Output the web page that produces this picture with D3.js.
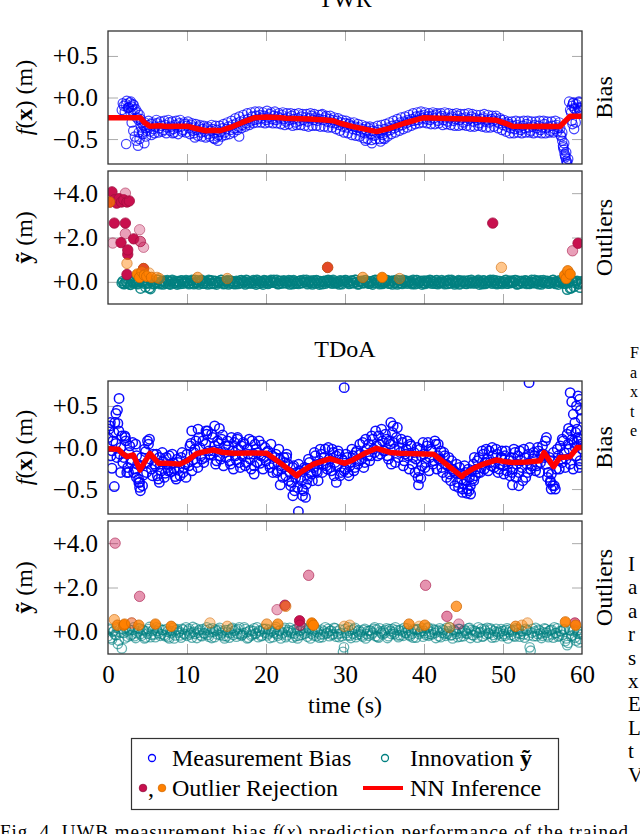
<!DOCTYPE html>
<html>
<head>
<meta charset="utf-8">
<script src="https://cdn.jsdelivr.net/npm/d3@7"></script>
<style>
  body { margin: 0; background: #fff; }
  text { font-family: "Liberation Serif", "Times New Roman", serif; fill: #000; }
</style>
</head>
<body>
<svg id="chart" width="640" height="834"></svg>
<script>
// ---- data ----
// dense samples: one value every dt seconds starting at the given t0
const dt = 0.25;

// TWR measurement bias (two interleaved sample runs)
const twrBiasT0 = 1.75;
const twrBias = [
  -0.15,-0.10,-0.08,-0.13,-0.06,-0.11,-0.09,-0.14,-0.18,-0.21,
  -0.30,-0.34,-0.37,-0.33, -0.36,-0.32,-0.38,-0.35, -0.31,-0.37,-0.34,-0.39,
  -0.33,-0.36,-0.30,-0.35, -0.38,-0.33,-0.36,-0.31, -0.35,-0.39,-0.32,-0.34,
  -0.37,-0.33,-0.40,-0.36, -0.39,-0.35,-0.42,-0.38, -0.41,-0.37,-0.44,-0.40,
  -0.38,-0.43,-0.39,-0.45, -0.41,-0.37,-0.42,-0.38, -0.35,-0.39,-0.33,-0.37,
  -0.31,-0.35,-0.29,-0.33, -0.27,-0.31,-0.26,-0.29, -0.23,-0.27,-0.22,-0.26,
  -0.21,-0.25,-0.22,-0.27, -0.24,-0.20,-0.26,-0.22, -0.27,-0.23,-0.25,-0.21,
  -0.26,-0.29,-0.24,-0.27, -0.22,-0.26,-0.30,-0.25, -0.28,-0.23,-0.27,-0.24,
  -0.29,-0.25,-0.22,-0.27, -0.24,-0.28,-0.26,-0.21, -0.27,-0.24,-0.29,-0.26,
  -0.30,-0.27,-0.31,-0.28, -0.33,-0.30,-0.35,-0.31, -0.36,-0.32,-0.34,-0.38,
  -0.35,-0.39,-0.36,-0.41, -0.38,-0.43,-0.40,-0.37, -0.44,-0.40,-0.46,-0.42,
  -0.39,-0.43,-0.45,-0.38, -0.41,-0.36,-0.39,-0.34, -0.37,-0.33,-0.35,-0.30,
  -0.33,-0.29,-0.31,-0.27, -0.29,-0.26,-0.28,-0.23, -0.27,-0.22,-0.25,-0.21,
  -0.26,-0.23,-0.27,-0.22, -0.25,-0.21,-0.28,-0.24, -0.22,-0.27,-0.24,-0.29,
  -0.25,-0.23,-0.28,-0.26, -0.22,-0.27,-0.25,-0.30, -0.24,-0.28,-0.26,-0.23,
  -0.29,-0.25,-0.27,-0.31, -0.26,-0.24,-0.29,-0.27, -0.30,-0.26,-0.28,-0.25,
  -0.29,-0.31,-0.27,-0.33, -0.30,-0.35,-0.32,-0.37, -0.34,-0.38,-0.33,-0.36,
  -0.39,-0.34,-0.37,-0.32, -0.36,-0.40,-0.35,-0.33, -0.37,-0.34,-0.39,-0.36,
  -0.32,-0.37,-0.35,-0.40, -0.34,-0.38,-0.33,-0.36, -0.37,-0.42,-0.55,-0.66,
  -0.74,-0.15,-0.10,-0.13, -0.08,-0.12,-0.15,-0.11
];
const twrBias2T0 = 1.875;
const twrBias2 = [
  -0.07,-0.17,-0.04,-0.12,-0.19,-0.08,-0.15,-0.24,-0.27,
  -0.26,-0.42,-0.30,-0.40, -0.28,-0.41,-0.30,-0.43, -0.27,-0.42,-0.29,-0.41,
  -0.28,-0.43,-0.27,-0.40, -0.29,-0.42,-0.28,-0.44, -0.27,-0.41,-0.30,-0.42,
  -0.29,-0.44,-0.31,-0.43, -0.32,-0.46,-0.33,-0.47, -0.34,-0.48,-0.35,-0.47,
  -0.33,-0.49,-0.34,-0.47, -0.34,-0.47,-0.32,-0.45, -0.30,-0.44,-0.28,-0.42,
  -0.25,-0.39,-0.23,-0.37, -0.21,-0.35,-0.19,-0.33, -0.18,-0.31,-0.17,-0.30,
  -0.17,-0.30,-0.18,-0.31, -0.16,-0.30,-0.18,-0.31, -0.17,-0.31,-0.19,-0.32,
  -0.18,-0.33,-0.19,-0.32, -0.19,-0.34,-0.20,-0.33, -0.19,-0.33,-0.20,-0.34,
  -0.20,-0.35,-0.19,-0.34, -0.20,-0.34,-0.21,-0.35, -0.20,-0.35,-0.22,-0.36,
  -0.22,-0.36,-0.24,-0.38, -0.25,-0.40,-0.27,-0.42, -0.28,-0.43,-0.30,-0.45,
  -0.30,-0.46,-0.32,-0.47, -0.33,-0.49,-0.35,-0.50, -0.35,-0.51,-0.36,-0.50,
  -0.34,-0.50,-0.33,-0.49, -0.32,-0.47,-0.30,-0.44, -0.28,-0.42,-0.26,-0.40,
  -0.24,-0.38,-0.23,-0.36, -0.21,-0.34,-0.19,-0.32, -0.18,-0.31,-0.17,-0.30,
  -0.18,-0.31,-0.19,-0.32, -0.18,-0.32,-0.19,-0.31, -0.19,-0.33,-0.18,-0.32,
  -0.19,-0.33,-0.20,-0.34, -0.19,-0.34,-0.20,-0.33, -0.20,-0.34,-0.19,-0.35,
  -0.20,-0.35,-0.21,-0.34, -0.21,-0.35,-0.20,-0.36, -0.21,-0.36,-0.22,-0.35,
  -0.22,-0.37,-0.25,-0.39, -0.27,-0.41,-0.29,-0.43, -0.29,-0.43,-0.28,-0.42,
  -0.29,-0.43,-0.28,-0.42, -0.28,-0.42,-0.29,-0.43, -0.29,-0.42,-0.28,-0.43,
  -0.28,-0.43,-0.29,-0.42, -0.29,-0.42,-0.28,-0.41, -0.30,-0.47,-0.60,-0.70,
  -0.78,-0.05,-0.18,-0.07, -0.14,-0.17,-0.06,-0.13
];
// scattered TWR bias points [t, value]
const twrBiasExtra = [
  [2.3,-0.56],[2.6,-0.12],[2.9,-0.05],[3.0,-0.30],[3.1,-0.16],[3.2,-0.40],[3.4,-0.47],
  [3.6,-0.52],[3.8,-0.58],[3.9,-0.42],[4.0,-0.50],[4.2,-0.36],[4.4,-0.44],[4.6,-0.55],
  [4.8,-0.47],[5.5,-0.45],[8.2,-0.43],[11.0,-0.48],[13.5,-0.50],[13.9,-0.52],[16.6,-0.47],
  [32.6,-0.52],[33.4,-0.55],[34.5,-0.53],[35.0,-0.50],[57.3,-0.45],[57.5,-0.52],[57.6,-0.58],
  [57.7,-0.63],[57.8,-0.68],[57.9,-0.72],[58.0,-0.76],[58.1,-0.80],[58.2,-0.85],
  [58.7,-0.28],[58.8,-0.32],[59.0,-0.38],[59.2,-0.30],[58.9,-0.06],[59.6,-0.05]
];
// TWR NN inference [t, value]
const twrNN = [
  [0,-0.245],[4.1,-0.245],[4.6,-0.30],[5.3,-0.345],[6.5,-0.34],[7.5,-0.35],[8.5,-0.345],
  [10,-0.345],[11,-0.37],[12.4,-0.40],[13.3,-0.395],[14.2,-0.40],[15.5,-0.36],[17,-0.30],
  [18.5,-0.245],[20,-0.235],[21.5,-0.24],[22.5,-0.25],[24.3,-0.255],[25.5,-0.26],
  [26.5,-0.265],[27.5,-0.27],[28.5,-0.28],[29.4,-0.31],[31,-0.35],[32.5,-0.38],[34,-0.41],
  [35.5,-0.375],[37.5,-0.31],[39.9,-0.245],[42,-0.25],[44,-0.255],[46,-0.26],[47.5,-0.265],
  [49.2,-0.275],[50.3,-0.31],[51.2,-0.345],[53,-0.35],[55,-0.345],[57.2,-0.35],
  [57.8,-0.29],[58.5,-0.225],[60,-0.225]
];

// TWR innovation (two interleaved sample runs)
const twrInnovT0 = 1.75;
const twrInnov = [
  -0.05,-0.10,0.02,-0.08,-0.12,0.04,-0.06,-0.02,-0.10,0.05,
  -0.02,0.06,-0.24,-0.08, -0.28,0.03,-0.10,-0.05, 0.08,-0.06,0.01,-0.11,
  -0.03,0.07,-0.09,0.02, -0.07,0.04,-0.12,-0.01, 0.06,-0.08,0.00,-0.04,
  -0.10,0.03,-0.06,0.08, -0.02,-0.11,0.05,-0.07, 0.02,-0.05,0.09,-0.09,
  -0.06,0.04,-0.12,0.01, 0.07,-0.03,-0.08,0.03, -0.11,0.05,-0.04,0.00,
  0.04,-0.09,0.06,-0.06, -0.01,0.08,-0.07,0.02, -0.08,0.03,-0.12,0.05,
  0.01,-0.06,0.07,-0.03, -0.09,0.04,-0.02,0.09, -0.05,-0.10,0.03,-0.07,
  0.06,-0.04,0.00,-0.11, -0.03,0.07,-0.08,0.02, 0.04,-0.06,0.08,-0.02,
  -0.10,0.01,-0.05,0.06, -0.07,0.05,-0.12,0.00, 0.03,-0.08,0.06,-0.04,
  -0.02,0.09,-0.06,0.01, -0.11,0.04,-0.03,0.07, 0.00,-0.09,0.05,-0.05,
  0.08,-0.02,-0.10,0.03, -0.06,0.06,-0.01,-0.08, 0.02,-0.12,0.07,-0.04,
  -0.03,0.05,-0.09,0.00, 0.06,-0.07,0.02,-0.11, -0.04,0.08,-0.06,0.03,
  -0.09,0.01,0.05,-0.02, 0.04,-0.10,-0.03,0.07, -0.07,0.02,-0.12,0.05,
  0.01,-0.05,0.08,-0.08, -0.02,0.06,-0.10,0.00, 0.07,-0.04,0.03,-0.09,
  -0.06,0.09,-0.01,-0.05, 0.03,-0.11,0.05,-0.03, -0.08,0.02,-0.06,0.08,
  0.00,-0.07,0.04,-0.12, -0.04,0.06,-0.09,0.02, 0.05,-0.02,0.08,-0.06,
  -0.10,0.03,-0.04,0.01, 0.06,-0.08,0.00,-0.05, -0.03,0.07,-0.11,0.04,
  0.02,-0.06,0.05,-0.09, -0.07,0.01,-0.03,0.08, 0.04,-0.10,0.06,-0.02,
  -0.05,0.03,-0.08,0.00, 0.07,-0.04,0.02,-0.12, -0.01,0.05,-0.07,0.03,
  -0.06,-0.30,0.04,-0.22, 0.02,-0.08,-0.26,-0.03
];
const twrInnov2T0 = 1.875;
const twrInnov2 = [
  0.03,-0.09,-0.04,0.06,-0.13,-0.01,0.07,-0.07,0.00,
  -0.30,0.02,-0.08,0.07, -0.04,-0.32,0.05,-0.09, -0.02,0.09,-0.10,0.04,
  0.05,-0.08,0.02,-0.12, 0.08,-0.03,-0.07,0.03, -0.09,0.05,-0.01,0.07,
  0.04,-0.06,0.09,-0.10, -0.05,0.06,-0.02,0.08, -0.08,0.03,-0.11,0.05,
  0.06,-0.09,0.03,-0.05, -0.03,0.08,-0.10,0.02, 0.07,-0.06,0.04,-0.09,
  -0.10,0.01,-0.04,0.07, 0.03,-0.11,0.06,-0.05, -0.02,0.07,-0.05,0.09,
  -0.08,0.02,-0.12,0.05, 0.04,-0.06,0.08,-0.03, 0.01,0.08,-0.09,0.04,
  -0.06,0.03,-0.07,0.07, 0.05,-0.10,0.02,-0.05, -0.09,0.06,-0.04,0.01,
  0.08,-0.03,0.05,-0.11, -0.02,0.07,-0.06,0.03, -0.10,0.04,-0.01,0.08,
  0.05,-0.08,0.02,-0.06, -0.04,0.06,-0.10,0.03, 0.07,-0.02,-0.07,0.05,
  -0.05,0.08,-0.11,0.01, 0.04,-0.06,0.07,-0.03, -0.08,0.03,-0.05,0.09,
  0.06,-0.10,0.01,-0.06, -0.01,0.07,-0.08,0.04, 0.05,-0.04,-0.11,0.06,
  -0.06,0.09,-0.02,-0.08, 0.02,-0.05,0.08,-0.10, 0.07,-0.03,0.04,-0.06,
  -0.09,0.05,-0.02,0.06, 0.03,-0.08,0.07,-0.04, -0.05,0.02,-0.10,0.05,
  0.08,-0.06,0.03,-0.11, -0.02,0.07,-0.07,0.01, 0.05,-0.09,0.06,-0.04,
  -0.07,0.03,-0.03,0.08, 0.01,-0.10,0.05,-0.06, -0.04,0.08,-0.08,0.02,
  0.06,-0.05,0.03,-0.09, -0.03,0.09,-0.07,0.04, 0.05,-0.02,0.07,-0.10,
  -0.08,0.04,-0.04,0.06, 0.02,-0.09,0.08,-0.05, -0.06,0.05,-0.01,-0.11,
  0.07,-0.03,0.04,-0.07, -0.04,0.08,-0.09,0.01, 0.06,-0.05,0.03,-0.08,
  -0.35,0.01,-0.28,0.05, -0.05,0.04,-0.10,0.02
];
// TWR rejected outliers [t, value, opacity]
const twrOutRed = [
  [0.26,3.6,1],[0.5,4.06,1],[0.8,3.7,1],[1.1,3.55,1],[1.4,3.75,1],[1.7,3.6,1],[2.0,3.7,1],
  [2.4,3.6,1],[2.7,3.65,1],[2.2,4.0,0.35],[0.8,2.65,1],[2.2,2.65,1],[0.6,1.75,0.3],
  [1.65,1.77,1],[2.2,2.17,0.4],[2.5,1.24,1],[2.5,1.44,1],[2.4,0.33,1],[3.25,1.94,1],
  [4.0,2.35,0.3],[4.1,1.82,0.6],[4.5,1.56,0.3],[4.5,0.6,1],[27.8,0.65,1],[48.7,2.65,1],
  [58.8,1.4,0.4],[59.5,1.74,1]
];
const twrOutOrange = [
  [0.2,3.6,0.7],[2.4,0.83,0.45],[4.5,0.6,0.5],[27.8,0.65,0.5],[49.8,0.65,0.45],
  [3.7,0.35,1],[4.0,0.2,1],[4.3,0.45,0.5],[4.6,0.3,1],[4.9,0.25,1],[5.2,0.4,0.35],
  [5.5,0.2,0.8],[6.2,0.2,0.5],[6.5,0.15,0.35],[11.35,0.2,0.6],[15.1,0.15,0.45],
  [32.25,0.2,0.6],[34.7,0.2,1],[36.9,0.15,0.4],[57.8,0.3,1],[58.0,0.15,1],[58.2,0.5,0.9],
  [58.5,0.35,1]
];

// TDoA measurement bias (two interleaved sample runs)
const tdoaBiasT0 = 0;
const tdoaBias = [
  0.12,0.26,-0.04,0.18, 0.05,0.29,-0.08,0.14, -0.12,0.08,-0.24,0.02, -0.15,-0.30,0.04,-0.20,
  -0.42,-0.12,-0.33,-0.05, -0.18,0.10,-0.26,-0.08, -0.22,-0.34,-0.12,-0.28, -0.17,-0.31,-0.24,-0.10,
  -0.29,-0.19,-0.35,-0.14, -0.25,-0.12,-0.30,-0.20, -0.08,-0.22,0.05,-0.15, -0.02,-0.18,0.12,-0.10,
  0.08,-0.12,0.16,-0.04, -0.09,0.12,0.02,-0.16, 0.05,-0.14,0.15,-0.06, -0.12,0.02,-0.20,-0.04,
  0.06,-0.15,-0.02,-0.24, -0.10,0.04,-0.18,-0.08, -0.14,0.08,-0.22,-0.02, -0.06,-0.19,0.03,-0.12,
  -0.16,-0.04,-0.24,-0.10, -0.20,-0.08,-0.28,-0.14, -0.26,-0.12,-0.34,-0.20, -0.30,-0.42,-0.22,-0.36,
  -0.48,-0.28,-0.40,-0.52, -0.26,-0.38,-0.18,-0.32, -0.24,-0.10,-0.30,-0.16, -0.08,-0.20,-0.02,-0.26,
  -0.14,-0.28,-0.06,-0.18, -0.22,-0.08,-0.30,-0.16, -0.26,-0.12,-0.34,-0.18, -0.10,-0.24,-0.04,-0.16,
  -0.08,0.06,-0.18,-0.02, 0.04,-0.10,0.10,-0.06, 0.02,0.14,-0.08,0.08, -0.04,0.10,-0.14,0.04,
  0.18,-0.02,0.12,-0.12, -0.06,0.06,-0.16,-0.02, -0.10,0.04,-0.20,-0.06, -0.14,-0.36,-0.02,-0.22,
  -0.08,-0.18,0.06,-0.12, -0.04,-0.16,0.04,-0.10, -0.14,-0.24,-0.06,-0.20, -0.22,-0.32,-0.16,-0.28,
  -0.30,-0.42,-0.24,-0.38, -0.44,-0.30,-0.50,-0.36, -0.28,-0.20,-0.34,-0.16, -0.12,-0.24,-0.08,-0.18,
  -0.14,-0.04,-0.22,-0.10, -0.18,-0.08,-0.26,-0.12, -0.22,-0.10,-0.28,-0.16, -0.12,-0.26,-0.06,-0.20,
  -0.30,-0.16,-0.40,-0.12, -0.20,-0.08,-0.26,-0.14, -0.10,-0.22,-0.04,-0.18, 0.02,-0.12,-0.20,-0.30,
  -0.40,-0.16,-0.46,-0.26, -0.10,0.02,-0.18,-0.06, -0.14,0.04,-0.20,0.10, 0.06,-0.10,0.12,-0.16,
  -0.02
];
const tdoaBias2T0 = 0.125;
const tdoaBias2 = [
  0.22,-0.10,0.08,0.30, -0.12,0.20,0.00,-0.18, 0.14,-0.30,-0.06,-0.18, 0.06,-0.26,-0.10,-0.38,
  -0.22,-0.46,-0.02,-0.30, 0.04,-0.14,-0.34,-0.20, -0.08,-0.38,-0.20,-0.06, -0.36,-0.12,-0.28,-0.20,
  -0.08,-0.26,-0.38,-0.18, -0.34,-0.06,-0.24,-0.36, -0.18,0.02,-0.28,-0.06, 0.08,-0.24,0.00,-0.14,
  -0.18,0.04,0.20,-0.08, 0.16,-0.04,-0.20,0.08, -0.10,0.10,-0.22,0.02, 0.08,-0.16,0.12,-0.26,
  -0.10,0.10,-0.18,0.02, 0.06,-0.22,-0.02,0.10, -0.26,-0.08,0.04,-0.18, 0.08,-0.10,-0.26,0.00,
  -0.06,-0.20,0.04,-0.30, -0.12,-0.30,-0.02,-0.22, -0.36,-0.18,-0.08,-0.40, -0.46,-0.24,-0.52,-0.30,
  -0.20,-0.36,-0.58,-0.24, -0.44,-0.14,-0.30,-0.40, -0.06,-0.28,-0.20,-0.02, -0.30,-0.12,-0.22,0.00,
  -0.24,-0.02,-0.34,-0.10, -0.04,-0.34,-0.14,-0.28, -0.08,-0.30,-0.22,-0.02, -0.28,-0.06,-0.20,0.04,
  -0.14,-0.24,0.10,-0.10, -0.16,0.14,-0.02,0.20, -0.10,0.04,0.22,-0.04, 0.16,-0.10,0.08,-0.20,
  0.06,-0.18,0.24,0.00, 0.10,-0.22,-0.08,0.08, -0.26,0.02,-0.12,-0.30, 0.00,-0.28,-0.10,0.06,
  -0.24,0.02,-0.28,-0.02, -0.20,0.08,-0.26,-0.14, -0.04,-0.30,-0.10,-0.36, -0.12,-0.40,-0.26,-0.46,
  -0.20,-0.48,-0.32,-0.54, -0.22,-0.40,-0.26,-0.46, -0.38,-0.12,-0.26,-0.30, -0.30,-0.04,-0.26,-0.02,
  -0.28,-0.18,0.00,-0.24, -0.02,-0.30,-0.20,-0.04, -0.32,-0.04,-0.20,-0.34, -0.30,-0.02,-0.36,-0.10,
  -0.04,-0.24,-0.02,-0.36, -0.30,0.00,-0.22,-0.06, -0.28,0.00,-0.30,-0.08, -0.08,0.08,-0.36,-0.12,
  -0.32,-0.06,-0.50,-0.02, -0.26,-0.14,0.08,-0.24, 0.16,-0.02,0.20,-0.26, 0.00,0.22,-0.24,0.04
];
const tdoaBiasExtra = [
  [0.3,0.30],[0.5,-0.25],[0.8,-0.47],[1.0,0.41],[1.2,0.45],[1.4,0.59],[1.6,-0.30],[2.2,0.12],
  [2.6,-0.30],[3.6,-0.36],[3.9,-0.42],[4.0,-0.48],[4.1,-0.52],[5.0,0.08],[6.5,-0.42],
  [10.6,0.20],[11.4,0.22],[12.4,0.20],[13.5,0.26],[14.1,0.23],[16.4,0.12],[18.5,-0.32],
  [21.8,-0.45],[22.6,-0.12],[23.4,-0.58],[24.1,-0.77],[24.6,-0.50],[25.0,-0.60],[26.6,-0.40],
  [28.9,-0.42],[29.9,0.72],[35.8,0.30],[36.1,0.26],[39.3,-0.45],[39.6,-0.37],[41.8,0.04],
  [44.9,-0.50],[45.4,-0.55],[45.7,-0.52],[45.9,-0.56],[46.3,-0.40],[49.8,-0.12],[51.2,-0.45],
  [52.0,-0.46],[53.3,0.78],[55.5,0.12],[56.0,-0.42],[56.1,-0.50],[56.3,-0.46],[57.5,0.10],
  [58.3,0.23],[58.5,0.66],[58.7,0.55],[58.9,0.40],[59.1,0.30],[59.2,0.18],[59.3,0.50],
  [59.4,0.08],[59.5,0.62],[59.6,0.10],[59.7,0.58],[59.8,0.45],[59.8,-0.20],[59.9,0.35]
];
const tdoaNN = [
  [0,-0.015],[1.3,-0.02],[1.8,-0.07],[2.4,-0.11],[3.2,-0.09],[4.05,-0.27],[5.3,-0.07],
  [6.4,-0.19],[7.5,-0.19],[9.1,-0.20],[10,-0.16],[11.2,-0.075],[12.2,-0.05],[13.3,-0.03],
  [14.6,-0.06],[16,-0.07],[18,-0.065],[20.1,-0.07],[22,-0.2],[23.9,-0.34],[24.2,-0.31],
  [26,-0.2],[28.1,-0.135],[30,-0.19],[31,-0.15],[32.5,-0.07],[34,-0.01],[35.7,-0.06],
  [37,-0.07],[39,-0.075],[41.2,-0.08],[44.8,-0.35],[45.1,-0.32],[46.3,-0.25],[47.5,-0.2],
  [49.2,-0.15],[50.2,-0.17],[51.3,-0.18],[53,-0.175],[54.7,-0.16],[55.2,-0.06],[56.4,-0.23],
  [57.2,-0.12],[58.5,-0.11],[59.4,0.0],[60,0.0]
];

// TDoA innovation (two interleaved sample runs)
const tdoaInnovT0 = 0;
const tdoaInnov = [
  -0.20,0.10,-0.35,0.05, -0.15,-0.55,0.12,-0.75, -0.05,0.18,-0.22,0.08, -0.12,0.20,-0.28,0.02,
  0.15,-0.18,0.06,-0.25, -0.08,0.22,-0.14,0.10, -0.24,0.04,0.16,-0.10, 0.08,-0.20,0.00,-0.30,
  -0.06,0.18,-0.16,0.12, 0.02,-0.26,0.10,-0.12, -0.18,0.14,-0.04,0.22, -0.10,-0.28,0.06,-0.16,
  0.12,-0.08,0.20,-0.22, -0.02,0.16,-0.24,0.04, 0.10,-0.14,0.02,-0.30, -0.20,0.08,-0.06,0.18,
  0.04,-0.22,0.12,-0.10, -0.14,0.20,-0.02,-0.26, 0.08,-0.12,0.16,-0.06, -0.24,0.02,-0.16,0.12,
  0.14,-0.08,-0.28,0.04, -0.04,0.22,-0.18,0.06, -0.12,0.10,-0.24,0.00, 0.18,-0.06,0.08,-0.20,
  -0.30,0.04,-0.14,0.16, 0.06,-0.22,0.12,-0.08, -0.16,0.14,-0.02,-0.26, 0.10,-0.12,0.20,-0.04,
  -0.20,0.06,-0.10,0.16, 0.02,-0.24,-0.06,-0.90, 0.12,-0.16,0.04,-0.28, -0.08,0.18,-0.14,0.08,
  0.00,-0.22,0.14,-0.10, -0.18,0.06,-0.04,0.20, 0.10,-0.26,0.02,-0.12, -0.06,0.16,-0.20,0.04,
  0.14,-0.10,0.08,-0.24, -0.16,0.02,0.18,-0.06, 0.06,-0.20,-0.08,0.12, -0.26,0.10,-0.02,0.16,
  0.04,-0.14,0.20,-0.10, -0.12,0.08,-0.28,0.02, 0.16,-0.04,0.06,-0.18, -0.08,0.20,-0.14,0.10,
  0.00,-0.24,0.12,-0.06, -0.20,0.04,-0.10,0.18, 0.08,-0.16,0.02,-0.26, -0.04,0.14,-0.20,0.06,
  0.18,-0.08,0.10,-0.14, -0.24,0.00,-0.06,0.12, 0.04,-0.18,0.16,-0.02, -0.14,0.08,-0.22,0.10,
  0.12,-0.10,0.02,-0.26, 0.06,-0.16,-0.85,0.14, 0.02,-0.20,0.10,-0.08, -0.18,0.16,-0.04,-0.24,
  0.08,-0.12,0.20,-0.06, -0.22,0.04,-0.14,0.12, -0.30,-0.50,0.06,-0.16, 0.10,-0.40,-0.08,-0.32,
  -0.12
];
const tdoaInnov2T0 = 0.125;
const tdoaInnov2 = [
  0.15,-0.28,0.00,-0.12, 0.20,-0.40,-0.04,0.14, -0.30,0.02,0.12,-0.16, 0.08,-0.20,-0.06,0.16,
  -0.10,0.10,-0.30,0.02, 0.12,-0.24,0.04,-0.12, 0.20,-0.06,-0.18,0.08, -0.14,0.12,-0.24,0.04,
  0.02,-0.30,0.08,-0.04, -0.16,0.14,-0.08,0.20, 0.06,-0.12,-0.26,0.00, 0.16,-0.04,0.10,-0.20,
  -0.06,0.08,-0.14,0.12, -0.28,0.00,0.10,-0.12, 0.18,-0.06,-0.20,0.08, -0.02,-0.26,0.14,-0.14,
  0.10,-0.08,0.20,-0.18, -0.06,0.12,-0.30,0.02, -0.18,0.04,-0.10,0.20, 0.06,-0.20,0.14,-0.04,
  -0.16,0.10,0.00,-0.24, 0.12,-0.10,0.04,-0.30, -0.04,0.18,-0.16,0.08, 0.02,-0.26,-0.08,0.14,
  -0.18,0.08,0.20,-0.10, -0.04,0.16,-0.30,0.02, 0.10,-0.20,0.06,-0.12, -0.24,0.02,-0.08,0.14,
  0.04,-0.14,0.18,-0.22, -0.10,0.10,-0.20,-0.70, -0.06,0.20,-0.18,0.08, 0.12,-0.24,0.02,-0.10,
  -0.16,0.08,-0.30,0.04, 0.06,-0.12,0.14,-0.20, -0.22,0.16,-0.06,0.02, 0.08,-0.28,0.12,-0.10,
  -0.02,0.20,-0.16,0.06, 0.10,-0.18,-0.04,0.16, -0.14,0.02,-0.26,0.08, 0.12,-0.10,0.04,-0.22,
  -0.06,0.16,-0.18,0.00, 0.14,-0.06,0.08,-0.20, -0.24,0.10,-0.08,0.18, 0.02,-0.16,-0.30,0.06,
  -0.10,0.14,-0.22,0.02, 0.10,-0.06,0.16,-0.28, -0.14,0.06,-0.04,0.20, 0.00,-0.22,0.12,-0.12,
  -0.06,0.16,-0.26,0.04, 0.14,-0.12,0.02,-0.20, -0.10,0.08,-0.30,0.10, 0.02,-0.18,0.16,-0.06,
  -0.22,0.04,-0.12,0.14, 0.08,-0.70,-0.04,-0.20, 0.18,-0.10,0.06,-0.28, -0.02,0.12,-0.16,0.04,
  0.10,-0.26,-0.06,0.16, -0.18,0.02,0.10,-0.42, -0.60,0.10,-0.20,0.04, -0.26,0.06,-0.48,0.00
];
const tdoaOutRed = [
  [0.9,4.0,0.4],[3.0,0.4,0.3],[4.0,1.6,0.45],[21.4,1.0,0.35],[22.4,1.2,0.8],[24.25,0.5,1],
  [24.3,0.3,0.5],[25.4,2.55,0.45],[40.2,2.1,0.45],[42.9,0.7,0.5],[44.4,0.35,0.35],[59.1,0.4,0.6]
];
const tdoaOutOrange = [
  [22.5,1.15,0.5],[44.1,1.15,0.75],[0.8,0.55,0.5],[1.2,0.3,0.8],[2.0,0.3,1],[2.1,0.35,1],
  [3.0,0.4,0.35],[3.9,0.3,0.8],[6.0,0.35,0.9],[8.0,0.25,0.9],[12.9,0.4,0.35],[15.1,0.25,0.4],
  [20.1,0.35,0.6],[21.5,0.35,0.8],[25.8,0.4,1],[26.0,0.3,1],[29.9,0.25,0.35],[30.6,0.3,0.35],
  [38.1,0.35,0.8],[39.4,0.25,0.35],[40.1,0.3,0.8],[43.2,0.2,0.4],[51.6,0.25,0.7],
  [52.4,0.3,0.4],[53.1,0.4,0.35],[57.9,0.45,0.9],[59.2,0.3,0.9]
];

const biasTicks = [-0.5, 0, 0.5];
const outTicks = [0, 2, 4];
const timeTicks = [0, 10, 20, 30, 40, 50, 60];

// ---- layout ----
const svg = d3.select('#chart');
const plotLeft = 108, plotRight = 582, plotH = 133;
const x = d3.scaleLinear().domain([0, 60]).range([plotLeft, plotRight]);
const blue = '#0000ff', teal = '#008080', crimson = '#c8104e', orange = '#ff8000';

const signFmt = v => (v < 0 ? '\u2212' : '+') + Math.abs(v).toFixed(1);

// turn an evenly sampled list into [t, v] pairs
function samples(t0, vals) {
  return vals.map((v, i) => [t0 + i * dt, v]);
}

let clipCount = 0;
function panel(top, domain, ticks, lastPanel) {
  const y = d3.scaleLinear().domain(domain).range([top + plotH, top]);
  const g = svg.append('g');

  const gray = '#aaaaaa';
  const inner = [10, 20, 30, 40, 50];
  g.append('g').attr('transform', `translate(${plotLeft},0)`)
    .call(d3.axisLeft(y).tickValues(ticks).tickSize(-10).tickPadding(10).tickFormat(signFmt))
    .call(a => a.select('.domain').remove())
    .call(a => a.selectAll('line').attr('stroke', gray))
    .call(a => a.selectAll('text').attr('font-size', 25).attr('font-family', null));
  g.append('g').attr('transform', `translate(${plotRight},0)`)
    .call(d3.axisRight(y).tickValues(ticks).tickSize(-10).tickFormat(''))
    .call(a => a.select('.domain').remove())
    .call(a => a.selectAll('line').attr('stroke', gray));
  g.append('g').attr('transform', `translate(0,${top})`)
    .call(d3.axisTop(x).tickValues(inner).tickSize(-10).tickFormat(''))
    .call(a => a.select('.domain').remove())
    .call(a => a.selectAll('line').attr('stroke', gray));
  g.append('g').attr('transform', `translate(0,${top + plotH})`)
    .call(d3.axisBottom(x).tickValues(lastPanel ? timeTicks : inner).tickSize(-10).tickPadding(11)
      .tickFormat(lastPanel ? d3.format('d') : ''))
    .call(a => a.select('.domain').remove())
    .call(a => a.selectAll('line').attr('stroke', gray)
      .attr('stroke-opacity', d => (d === 0 || d === 60) ? 0 : 1))
    .call(a => a.selectAll('text').attr('font-size', 25).attr('font-family', null));

  const id = 'clip' + (clipCount++);
  svg.append('clipPath').attr('id', id).append('rect')
    .attr('x', plotLeft).attr('y', top).attr('width', plotRight - plotLeft).attr('height', plotH);
  const marks = g.append('g').attr('clip-path', `url(#${id})`);

  const frame = () => g.append('rect')
    .attr('x', plotLeft).attr('y', top).attr('width', plotRight - plotLeft).attr('height', plotH)
    .attr('fill', 'none').attr('stroke', '#333').attr('stroke-width', 1.3);
  return { y, marks, frame };
}

function openCircles(p, pts, color, op, sw) {
  p.marks.append('g').selectAll('circle').data(pts).join('circle')
    .attr('cx', d => x(d[0])).attr('cy', d => p.y(d[1])).attr('r', 4.7)
    .attr('fill', 'none').attr('stroke', color).attr('stroke-width', sw)
    .attr('stroke-opacity', op);
}

function filledCircles(p, pts, color) {
  p.marks.append('g').selectAll('circle').data(pts).join('circle')
    .attr('cx', d => x(d[0])).attr('cy', d => p.y(d[1])).attr('r', 5.2)
    .attr('fill', color).attr('fill-opacity', d => d[2])
    .attr('stroke', d3.color(color).darker(0.6)).attr('stroke-width', 0.8)
    .attr('stroke-opacity', d => Math.min(1, d[2] + 0.3));
}

function nnLine(p, pts) {
  p.marks.append('path').datum(pts)
    .attr('d', d3.line().x(d => x(d[0])).y(d => p.y(d[1])))
    .attr('fill', 'none').attr('stroke', 'red').attr('stroke-width', 5.5)
    .attr('stroke-linejoin', 'round');
}

function sideLabels(top, left, right) {
  const cy = top + plotH / 2;
  svg.append('text').attr('transform', `translate(32,${cy}) rotate(-90)`)
    .attr('text-anchor', 'middle').attr('font-size', 24).html(left);
  svg.append('text').attr('transform', `translate(612,${cy}) rotate(-90)`)
    .attr('text-anchor', 'middle').attr('font-size', 24).text(right);
}

const fLabel = '<tspan font-style="italic">f</tspan>(<tspan font-weight="bold">x</tspan>) (m)';
const yLabel = '<tspan font-weight="bold">\u1EF9</tspan> (m)';

// ---- TWR ----
svg.append('text').attr('x', 345).attr('y', 7).attr('text-anchor', 'middle')
  .attr('font-size', 24).text('TWR');

const p1 = panel(31, [-0.8, 0.8], biasTicks, false);
openCircles(p1, samples(twrBiasT0, twrBias).concat(samples(twrBias2T0, twrBias2), twrBiasExtra),
  blue, 0.75, 1.2);
nnLine(p1, twrNN);
p1.frame();
sideLabels(31, fLabel, 'Bias');

const p2 = panel(171, [-1, 5], outTicks, false);
openCircles(p2, samples(twrInnovT0, twrInnov).concat(samples(twrInnov2T0, twrInnov2)),
  teal, 0.9, 1.5);
filledCircles(p2, twrOutRed, crimson);
filledCircles(p2, twrOutOrange, orange);
p2.frame();
sideLabels(171, yLabel, 'Outliers');

// ---- TDoA ----
svg.append('text').attr('x', 345).attr('y', 357).attr('text-anchor', 'middle')
  .attr('font-size', 24).text('TDoA');

const p3 = panel(381, [-0.8, 0.8], biasTicks, false);
openCircles(p3, samples(tdoaBiasT0, tdoaBias).concat(samples(tdoaBias2T0, tdoaBias2), tdoaBiasExtra),
  blue, 0.95, 1.5);
nnLine(p3, tdoaNN);
p3.frame();
sideLabels(381, fLabel, 'Bias');

const p4 = panel(521, [-1, 5], outTicks, true);
openCircles(p4, samples(tdoaInnovT0, tdoaInnov).concat(samples(tdoaInnov2T0, tdoaInnov2)),
  teal, 0.6, 1.3);
filledCircles(p4, tdoaOutRed, crimson);
filledCircles(p4, tdoaOutOrange, orange);
p4.frame();
sideLabels(521, yLabel, 'Outliers');

svg.append('text').attr('x', 345).attr('y', 713).attr('text-anchor', 'middle')
  .attr('font-size', 24).text('time (s)');

// ---- legend ----
const lg = svg.append('g');
lg.append('rect').attr('x', 131.5).attr('y', 738.5).attr('width', 427).attr('height', 71)
  .attr('fill', '#fff').attr('stroke', '#333').attr('stroke-width', 1.2);
lg.append('circle').attr('cx', 152).attr('cy', 758).attr('r', 3.5)
  .attr('fill', 'none').attr('stroke', blue).attr('stroke-width', 1.3);
lg.append('text').attr('x', 172).attr('y', 766).attr('font-size', 24).text('Measurement Bias');
lg.append('circle').attr('cx', 385).attr('cy', 758).attr('r', 3.5)
  .attr('fill', 'none').attr('stroke', teal).attr('stroke-width', 1.3);
lg.append('text').attr('x', 410).attr('y', 766).attr('font-size', 24)
  .html('Innovation <tspan font-weight="bold">\u1EF9</tspan>');
lg.append('circle').attr('cx', 143).attr('cy', 788).attr('r', 3.8)
  .attr('fill', crimson).attr('stroke', d3.color(crimson).darker(0.8)).attr('stroke-width', 0.8);
lg.append('text').attr('x', 148).attr('y', 796).attr('font-size', 24).text(',');
lg.append('circle').attr('cx', 162).attr('cy', 788).attr('r', 3.8)
  .attr('fill', orange).attr('stroke', d3.color(orange).darker(0.5)).attr('stroke-width', 0.8);
lg.append('text').attr('x', 172).attr('y', 796).attr('font-size', 24).text('Outlier Rejection');
lg.append('line').attr('x1', 363).attr('x2', 403).attr('y1', 788).attr('y2', 788)
  .attr('stroke', 'red').attr('stroke-width', 4);
lg.append('text').attr('x', 410).attr('y', 796).attr('font-size', 24).text('NN Inference');

// ---- page text around the figure (cut off by the crop) ----
svg.append('text').attr('x', 0).attr('y', 838).attr('font-size', 19)
  .attr('textLength', 628).attr('lengthAdjust', 'spacing')
  .html('Fig. 4.   UWB measurement bias <tspan font-style="italic">f</tspan>(<tspan font-style="italic">x</tspan>) prediction performance of the trained');
const capLetters = ['F', 'a', 'x', 't', 'e'];
svg.append('g').selectAll('text').data(capLetters).join('text')
  .attr('x', 630).attr('y', (d, i) => 358 + i * 19.5).attr('font-size', 16).text(d => d);
const bodyLetters = ['I', 'a', 'a', 'r', 's', 'x', 'E', 'L', 't', 'V'];
svg.append('g').selectAll('text').data(bodyLetters).join('text')
  .attr('x', 628).attr('y', (d, i) => 571 + i * 23.4).attr('font-size', 21).text(d => d);
</script>
</body>
</html>
